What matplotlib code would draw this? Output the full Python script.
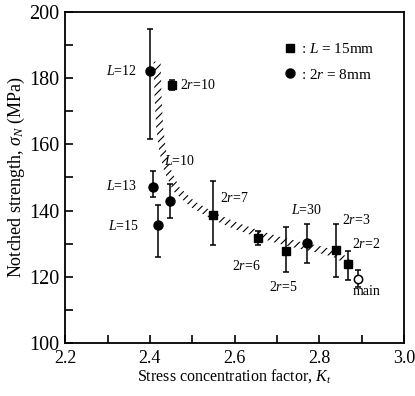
import matplotlib
matplotlib.use("Agg")
import numpy as np
import matplotlib.pyplot as plt
from matplotlib.ticker import MultipleLocator, FormatStrFormatter

plt.rcParams['font.family'] = ['Liberation Serif', 'DejaVu Serif']
plt.rcParams['mathtext.fontset'] = 'custom'
plt.rcParams['mathtext.rm'] = 'Liberation Serif'
plt.rcParams['mathtext.it'] = 'Liberation Serif:italic'
plt.rcParams['hatch.linewidth'] = 0.8

# L = 15mm series (squares)
sq_kt = [2.452, 2.55, 2.654, 2.72, 2.84, 2.868]
sq_s = [178.0, 138.7, 131.7, 127.8, 128.1, 123.9]
sq_lo = [1.5, 9.1, 2.2, 6.3, 8.1, 4.9]
sq_hi = [1.5, 10.3, 2.1, 7.2, 7.9, 3.9]

# 2r = 8mm series (circles)
ci_kt = [2.400, 2.407, 2.419, 2.447, 2.77]
ci_s = [182.0, 147.1, 135.6, 142.9, 130.2]
ci_lo = [20.4, 3.1, 9.6, 5.1, 6.0]
ci_hi = [12.9, 4.9, 6.1, 5.1, 5.8]

# main specimen (open circle)
main_kt = [2.89]
main_s = [119.3]
main_lo = [2.3]
main_hi = [2.7]

# centre line of the hatched trend band
band_kt = [2.417, 2.419, 2.423, 2.430, 2.442, 2.462, 2.50, 2.55, 2.60, 2.65,
           2.70, 2.75, 2.80, 2.835, 2.86, 2.878]
band_s = [185, 175, 165, 158, 152, 146.5, 142, 138.3, 135.5, 133.2,
          131.2, 129.6, 128.2, 127.0, 125.2, 122.5]

labels = [("$L$=12", 2.37, 182, 'right'),
          ("2$r$=10", 2.472, 178, 'left'),
          ("$L$=10", 2.433, 155, 'left'),
          ("$L$=13", 2.37, 147.5, 'right'),
          ("$L$=15", 2.375, 135.3, 'right'),
          ("2$r$=7", 2.566, 143.8, 'left'),
          ("2$r$=6", 2.594, 123.3, 'left'),
          ("2$r$=5", 2.681, 117.0, 'left'),
          ("$L$=30", 2.733, 140.2, 'left'),
          ("2$r$=3", 2.853, 137.2, 'left'),
          ("2$r$=2", 2.877, 130.0, 'left'),
          ("main", 2.911, 115.4, 'center')]

fig = plt.figure(figsize=(4.15, 3.96), dpi=100)
ax = fig.add_axes([0.157, 0.134, 0.817, 0.836])
ax.set_xlim(2.2, 3.0)
ax.set_ylim(100, 200)

# band polygon a few pixels wide around the centre line
pts = ax.transData.transform(np.column_stack([band_kt, band_s]))
d = np.gradient(pts, axis=0)
d /= np.hypot(d[:, 0], d[:, 1])[:, None]
nrm = np.column_stack([-d[:, 1], d[:, 0]])
half = 3.5
poly = np.vstack([pts + half * nrm, (pts - half * nrm)[::-1]])
poly = ax.transData.inverted().transform(poly)
ax.fill(poly[:, 0], poly[:, 1], facecolor='none', edgecolor='k', lw=0,
        hatch='////')

ax.errorbar(sq_kt, sq_s, yerr=[sq_lo, sq_hi], fmt='s', color='k', ms=6,
            capsize=2.5, elinewidth=1.1, capthick=1.1, label=': $L$ = 15mm')
ax.errorbar(ci_kt, ci_s, yerr=[ci_lo, ci_hi], fmt='o', color='k', ms=6.5,
            capsize=2.5, elinewidth=1.1, capthick=1.1, label=': 2$r$ = 8mm')
ax.errorbar(main_kt, main_s, yerr=[main_lo, main_hi], fmt='o', color='k',
            mfc='white', mew=1.1, ms=6, capsize=2.5, elinewidth=1.1, capthick=1.1)

for txt, x, y, ha in labels:
    ax.text(x, y, txt, ha=ha, va='center', fontsize=10)

h, l = ax.get_legend_handles_labels()
ax.legend([hh[0] for hh in h], l, loc='upper left', bbox_to_anchor=(0.606, 0.95),
          frameon=False, handlelength=0.8, handletextpad=0.3, fontsize=11,
          labelspacing=0.75)

ax.xaxis.set_major_locator(MultipleLocator(0.2))
ax.xaxis.set_minor_locator(MultipleLocator(0.1))
ax.yaxis.set_major_locator(MultipleLocator(20))
ax.yaxis.set_minor_locator(MultipleLocator(10))
ax.tick_params(which='both', direction='in', top=False, right=False)
ax.tick_params(axis='x', labelsize=13, pad=5)
ax.tick_params(axis='y', labelsize=14.5, pad=4)
ax.tick_params(which='both', length=6, width=1.2)
ax.xaxis.set_major_formatter(FormatStrFormatter('%.1f'))
for s in ax.spines.values():
    s.set_linewidth(1.3)

ax.set_xlabel('Stress concentration factor, $K_t$', fontsize=11.5, labelpad=0)
ax.set_ylabel('Notched strength, $\\sigma_N$ (MPa)', fontsize=13, labelpad=2)

fig.savefig('out.png', dpi=100)
